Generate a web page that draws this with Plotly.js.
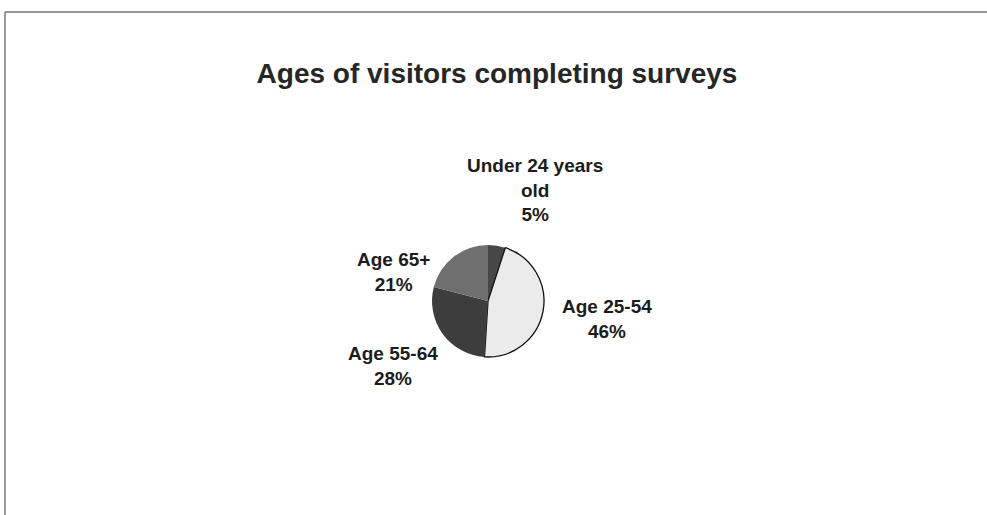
<!DOCTYPE html>
<html><head><meta charset="utf-8">
<script src="https://cdn.plot.ly/plotly-3.0.1.min.js"></script>
<style>html,body{margin:0;padding:0;background:#fff}#chart{width:987px;height:515px}</style>
</head><body><div id="chart"></div>
<script>
const categories = ["Under 24 years<br>old", "Age 25-54", "Age 55-64", "Age 65+"];
const shares = [5, 46, 28, 21];
const sliceColors = ["#474747", "#ebebeb", "#3d3d3d", "#6f6f6f"];

const W = 987, H = 515;
const cx = 488, cy = 301, r = 56;
// label anchor positions (pixels) for each slice label
const labelPos = [[535, 190], [607, 319], [393, 366], [393, 272]];

const fontFam = "Liberation Sans, Arial, sans-serif";
const data = [{
  type: "pie",
  labels: categories,
  values: shares,
  sort: false,
  direction: "clockwise",
  rotation: 0,
  textinfo: "none",
  marker: {colors: sliceColors, line: {color: ["rgba(0,0,0,0)", "#111", "rgba(0,0,0,0)", "rgba(0,0,0,0)"], width: [0, 1.3, 0, 0]}},
  domain: {x: [(cx - r) / W, (cx + r) / W], y: [(H - cy - r) / H, (H - cy + r) / H]},
  showlegend: false,
  hoverinfo: "none"
}];

const total = shares.reduce((a, b) => a + b, 0);
const annotations = categories.map((c, i) => ({
  xref: "paper", yref: "paper",
  x: labelPos[i][0] / W, y: 1 - labelPos[i][1] / H,
  xanchor: "center", yanchor: "middle",
  text: "<b>" + c + "<br>" + Math.round(shares[i] / total * 100) + "%</b>",
  showarrow: false, align: "center",
  font: {family: fontFam, size: 19, color: "#1c1c1c"}
}));

const layout = {
  width: W, height: H,
  margin: {l: 0, r: 0, t: 0, b: 0},
  paper_bgcolor: "#fff",
  title: {text: "<b>Ages of visitors completing surveys</b>", x: 497 / W, xanchor: "center", y: 1 - 73 / H, yanchor: "middle",
          font: {family: fontFam, size: 28, color: "#262626"}},
  annotations: annotations,
  shapes: [
    {type: "line", xref: "paper", yref: "paper", x0: 5 / W, x1: 1, y0: 1 - 12 / H, y1: 1 - 12 / H, line: {color: "#777", width: 1.5}},
    {type: "line", xref: "paper", yref: "paper", x0: 5 / W, x1: 5 / W, y0: 0, y1: 1 - 12 / H, line: {color: "#777", width: 1.5}}
  ]
};

Plotly.newPlot("chart", data, layout, {displayModeBar: false, staticPlot: true});
</script>
</body></html>
